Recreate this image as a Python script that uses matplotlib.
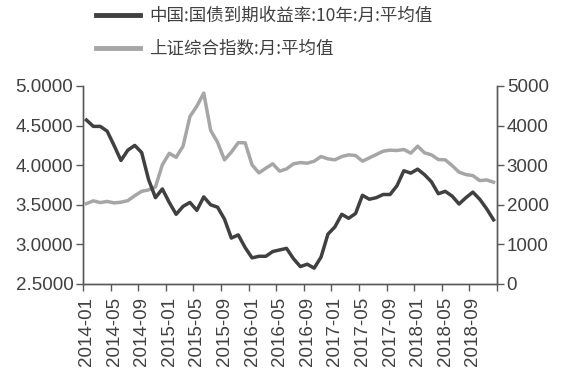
import matplotlib
matplotlib.use("Agg")
import matplotlib.pyplot as plt
import numpy as np

months = [f"{y}-{m:02d}" for y in range(2014, 2019) for m in range(1, 13)]

bond_yield = [4.57, 4.49, 4.49, 4.43, 4.25, 4.06, 4.19, 4.25, 4.16, 3.82,
              3.59, 3.70, 3.53, 3.38, 3.48, 3.53, 3.43, 3.60, 3.50, 3.47,
              3.32, 3.08, 3.12, 2.96, 2.83, 2.85, 2.85, 2.91, 2.93, 2.95,
              2.82, 2.72, 2.75, 2.70, 2.84, 3.13, 3.22, 3.38, 3.33, 3.39,
              3.62, 3.57, 3.59, 3.63, 3.63, 3.74, 3.93, 3.90, 3.95, 3.88,
              3.79, 3.64, 3.67, 3.61, 3.51, 3.59, 3.66, 3.57, 3.45, 3.31]

sh_index = [2030, 2100, 2056, 2085, 2048, 2065, 2106, 2230, 2340, 2376,
            2450, 3010, 3300, 3200, 3480, 4230, 4490, 4820, 3880, 3580,
            3135, 3330, 3570, 3565, 3008, 2806, 2925, 3034, 2849, 2907,
            3034, 3067, 3050, 3101, 3219, 3160, 3135, 3219, 3261, 3244,
            3101, 3185, 3269, 3354, 3380, 3371, 3396, 3304, 3480, 3312,
            3261, 3143, 3135, 2991, 2824, 2763, 2738, 2611, 2628, 2571]

label_bond = "中国:国债到期收益率:10年:月:平均值"
label_index = "上证综合指数:月:平均值"

left_ticks = [2.5, 3.0, 3.5, 4.0, 4.5, 5.0]
right_ticks = [0, 1000, 2000, 3000, 4000, 5000]

dark = "#404040"
gray = "#a6a6a6"
axis_col = "#595959"
text_col = "#404040"

fig = plt.figure(figsize=(5.64, 3.80), dpi=100)
ax = fig.add_axes([83/564, 1-284/380, (497-83)/564, (284-86)/380])
ax2 = ax.twinx()

x = np.arange(len(months))
l1, = ax.plot(x, bond_yield, color=dark, lw=2.5, solid_joinstyle="round")
l2, = ax2.plot(x, sh_index, color=gray, lw=2.5, solid_joinstyle="round")
ax.set_zorder(ax2.get_zorder() + 1)
ax.patch.set_visible(False)

ax.set_xlim(-0.5, len(months) - 0.5)
ax.set_ylim(2.5, 5.0)
ax2.set_ylim(0, 5000)
ax.set_yticks(left_ticks)
ax.set_yticklabels([f"{v:.4f}" for v in left_ticks])
ax2.set_yticks(right_ticks)
ax2.set_yticklabels([str(v) for v in right_ticks])

for a in (ax, ax2):
    a.spines["top"].set_visible(False)
    for s in ("left", "right", "bottom"):
        a.spines[s].set_color(axis_col)
        a.spines[s].set_linewidth(1.0)
ax.tick_params(axis="y", colors=axis_col, labelcolor=text_col, length=5, width=1, pad=2)
ax2.tick_params(axis="y", colors=axis_col, labelcolor=text_col, length=5, width=1, pad=2)
for lab in ax.get_yticklabels() + ax2.get_yticklabels():
    lab.set_fontfamily("Liberation Sans")
    lab.set_fontsize(13.5)

# category axis: tick marks at boundaries, labels at category centres
ax.set_xticks(np.arange(-0.5, len(months), 4))
ax.set_xticklabels([])
ax.set_xticks(np.arange(0, len(months), 4), minor=True)
ax.set_xticklabels([months[i] for i in range(0, len(months), 4)], minor=True,
                   rotation=90, fontfamily="Liberation Sans", fontsize=13.5, color=text_col)
ax.tick_params(axis="x", which="major", colors=axis_col, length=5, width=1)
ax.tick_params(axis="x", which="minor", length=0, pad=9, labelcolor=text_col)
ax2.tick_params(axis="x", which="both", bottom=False, labelbottom=False)

leg = fig.legend([l1, l2], [label_bond, label_index], loc="upper left",
                 bbox_to_anchor=(96/564, 1 - 7/380), frameon=False,
                 prop=dict(family=["Noto Sans CJK SC", "DejaVu Sans"], size=12.6),
                 handlelength=2.5, handletextpad=0.55, labelspacing=0.85,
                 borderpad=0, borderaxespad=0)
for t in leg.get_texts():
    t.set_color(text_col)
for h in leg.get_lines():
    h.set_linewidth(3.5)

fig.savefig("out.png", dpi=100)
